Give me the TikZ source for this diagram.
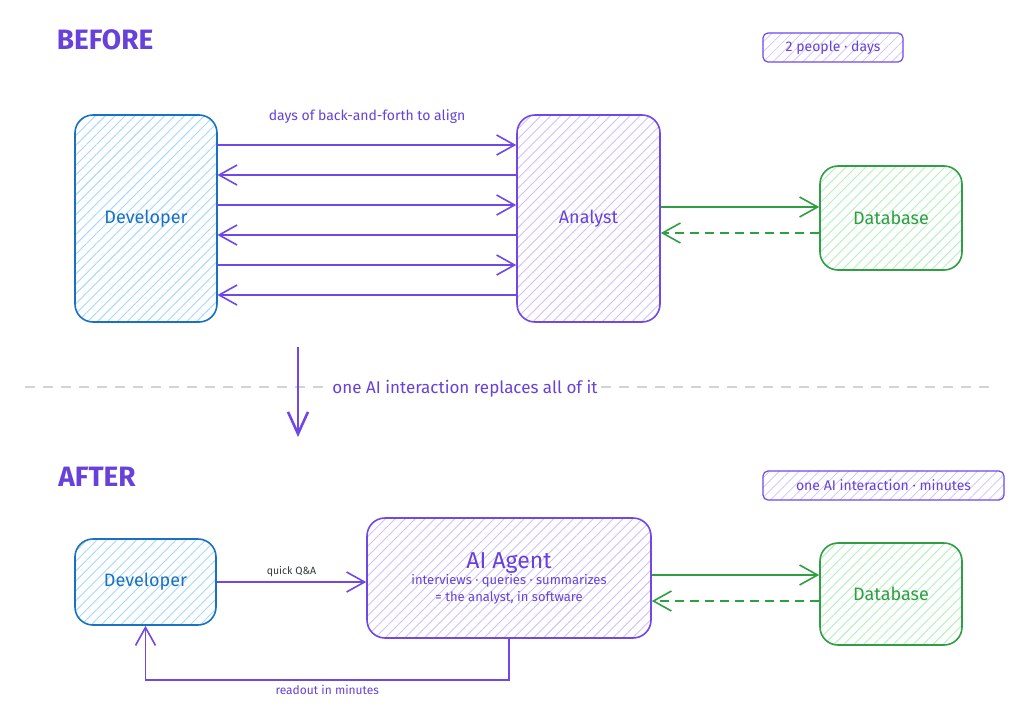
\documentclass[tikz,border=0pt]{standalone}
\usepackage{fontspec}
\setmainfont{Fira Sans}
\usepackage{tikz}
\usetikzlibrary{arrows.meta, positioning, calc, patterns.meta}
\definecolor{agentViolet}{RGB}{103, 65, 217}
\definecolor{lineViolet}{RGB}{112, 72, 232}
\definecolor{hatchViolet}{RGB}{208, 191, 255}
\definecolor{devBlue}{RGB}{25, 113, 194}
\definecolor{hatchBlue}{RGB}{165, 216, 255}
\definecolor{dbGreen}{RGB}{47, 158, 68}
\definecolor{hatchGreen}{RGB}{178, 242, 187}
\definecolor{sepGray}{RGB}{206, 212, 218}
\definecolor{labelGray}{RGB}{52, 58, 64}
\tikzset{
  box/.style={
    rectangle, rounded corners=18pt,
    line width=1.6pt, inner sep=0pt,
    align=center, font=\fontsize{18}{20}\selectfont
  },
  devbox/.style={
    box, draw=devBlue, text=devBlue,
    pattern={Lines[angle=45,distance=7pt,line width=0.9pt]},
    pattern color=hatchBlue
  },
  anabox/.style={
    box, draw=lineViolet, text=agentViolet,
    pattern={Lines[angle=45,distance=7pt,line width=0.9pt]},
    pattern color=hatchViolet
  },
  dbbox/.style={
    box, draw=dbGreen, text=dbGreen,
    pattern={Lines[angle=45,distance=7pt,line width=0.9pt]},
    pattern color=hatchGreen
  },
  tagbox/.style={
    rectangle, rounded corners=5pt,
    draw=lineViolet, line width=1.2pt, inner sep=0pt,
    text=agentViolet, font=\fontsize{14}{16}\selectfont,
    pattern={Lines[angle=45,distance=7pt,line width=0.7pt]},
    pattern color=hatchViolet
  },
  heading/.style={
    font=\fontsize{28}{30}\selectfont\bfseries, text=agentViolet
  },
  note/.style={
    font=\fontsize{13}{15}\selectfont, text=agentViolet, inner sep=2pt
  },
  talk/.style={
    -{Straight Barb[length=18pt,width=20pt,line width=1.6pt]},
    line width=1.6pt, color=lineViolet
  },
  query/.style={
    -{Straight Barb[length=18pt,width=20pt,line width=1.6pt]},
    line width=1.6pt, color=dbGreen
  },
  reply/.style={
    query, dashed, dash pattern=on 9pt off 6pt
  },
  bigdown/.style={
    -{Straight Barb[length=22pt,width=20pt,line width=2.6pt]},
    line width=2.6pt, color=lineViolet
  }
}

\begin{document}
\begin{tikzpicture}[x=1pt, y=-1pt]

  % ── Canvas ────────────────────────────────────────────────────────────────
  \useasboundingbox (0,0) rectangle (1024,726);
  \fill[white] (0,0) rectangle (1024,726);

  % ── Before: headings ──────────────────────────────────────────────────────
  \node[heading] (before) at (105,40) {BEFORE};
  \node[tagbox, minimum width=140pt, minimum height=29pt] (costA) at (833,47.5) {2 people · days};

  % ── Before: boxes ─────────────────────────────────────────────────────────
  \node[devbox, minimum width=142pt, minimum height=207pt] (devA) at (146,218.5) {Developer};
  \node[anabox, minimum width=143pt, minimum height=207pt] (ana) at (588.5,218.5) {Analyst};
  \node[dbbox, minimum width=142pt, minimum height=104pt] (dbA) at (891,218) {Database};

  % ── Before: back-and-forth ────────────────────────────────────────────────
  \foreach \y in {145,205,265}{
    \draw[talk] (devA.east |- 0,\y) -- (ana.west |- 0,\y);
  }
  \foreach \y in {175,235,295}{
    \draw[talk] (ana.west |- 0,\y) -- (devA.east |- 0,\y);
  }
  \node[note, font=\fontsize{14}{16}\selectfont] (alignlbl) at (367,117) {days of back-and-forth to align};

  \draw[query] (ana.east |- 0,207) -- (dbA.west |- 0,207);
  \draw[reply] (dbA.west |- 0,233) -- (ana.east |- 0,233);

  % ── Separator ─────────────────────────────────────────────────────────────
  \draw[sepGray, line width=1.2pt, dash pattern=on 10pt off 8pt] (25,387) -- (990,387);
  \coordinate (downTop) at (298,347);
  \coordinate (downBot) at (298,437);
  \draw[bigdown] (downTop) -- (downBot);
  \node[note, fill=white, font=\fontsize{17}{19}\selectfont] (switch) at (465,389) {one AI interaction replaces all of it};

  % ── After: headings ───────────────────────────────────────────────────────
  \node[heading] (after) at (97,477) {AFTER};
  \node[tagbox, minimum width=241pt, minimum height=29pt] (costB) at (883.5,485.5) {one AI interaction · minutes};

  % ── After: boxes ──────────────────────────────────────────────────────────
  \node[devbox, minimum width=141pt, minimum height=86pt] (devB) at (145.5,582) {Developer};
  \node[anabox, minimum width=284pt, minimum height=120pt, font=\fontsize{13}{16.5}\selectfont] (agent) at (509,578)
    {{\fontsize{23}{25}\selectfont AI Agent}\\interviews · queries · summarizes\\= the analyst, in software};
  \node[dbbox, minimum width=142pt, minimum height=102pt] (dbB) at (891,594) {Database};

  % ── After: connectors ─────────────────────────────────────────────────────
  \draw[talk] (devB.east) -- node[above=1pt, font=\fontsize{10.5}{12}\selectfont, text=labelGray] (qalbl) {quick Q\&A} (devB.east -| agent.west);
  \draw[talk] (agent.south) |- node[pos=0.75, below=2pt, note, font=\fontsize{12}{14}\selectfont] (readlbl) {readout in minutes} (devB.south |- 0,680) -- (devB.south);

  \draw[query] (agent.east |- 0,575) -- (dbB.west |- 0,575);
  \draw[reply] (dbB.west |- 0,601) -- (agent.east |- 0,601);

\end{tikzpicture}
\end{document}
